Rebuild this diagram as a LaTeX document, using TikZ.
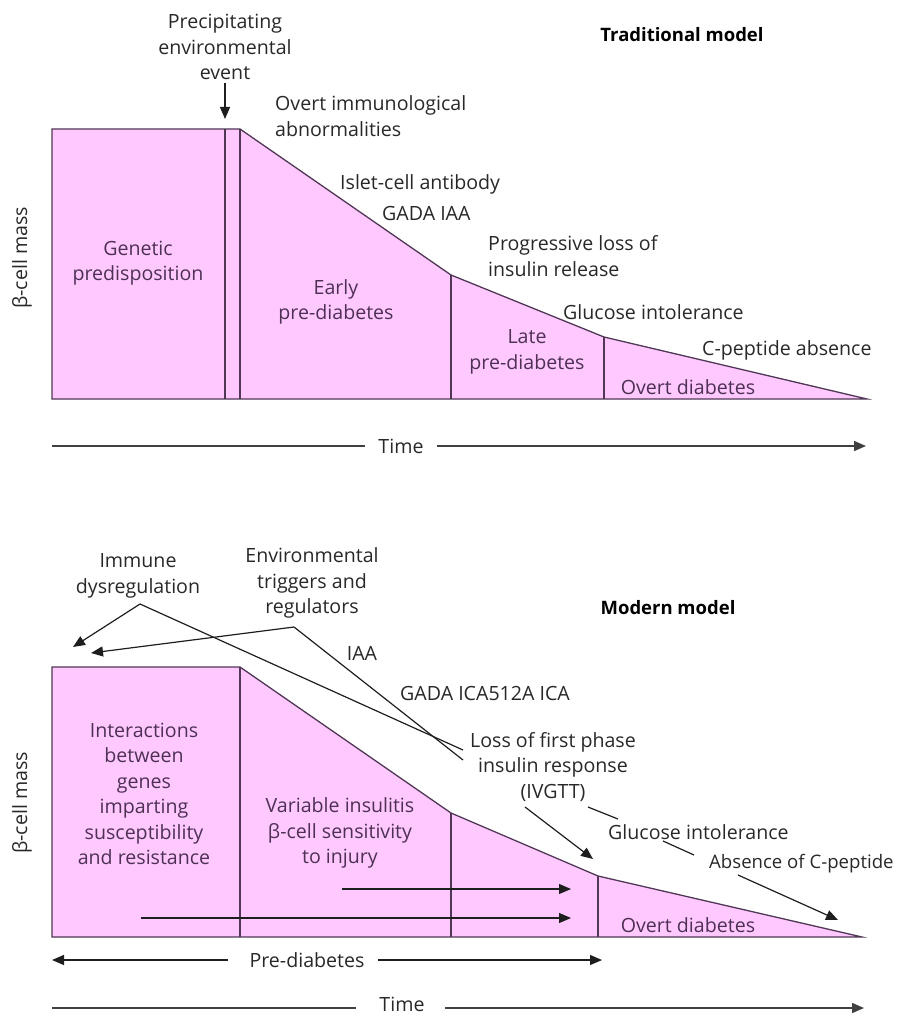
\documentclass[tikz,border=0pt]{standalone}
\usepackage{fontspec}
\setmainfont{Open Sans}
\usetikzlibrary{arrows.meta}
\definecolor{pinkfill}{RGB}{255,201,255}
\definecolor{intext}{RGB}{78,48,84}
\definecolor{outtext}{RGB}{40,40,40}
\definecolor{edgec}{RGB}{80,55,85}
\definecolor{linec}{RGB}{30,30,30}
\tikzset{
  lbl/.style={inner sep=0pt, text=outtext, font=\fontsize{19.6pt}{25.5pt}\selectfont, align=center},
  lbll/.style={lbl, align=left, anchor=west},
  inlbl/.style={lbl, text=intext},
  heading/.style={inner sep=0pt, text=black, font=\fontsize{18.5pt}{22pt}\selectfont\bfseries},
  stage/.style={draw=edgec, line width=1.3pt, fill=pinkfill, line join=miter},
  divider/.style={draw=edgec, line width=1.3pt},
  conn/.style={draw=linec, line width=1.2pt},
  arr/.style={conn, -{Triangle[length=12pt,width=10pt]}},
  axis/.style={draw=linec!85, line width=1.5pt},
  axarr/.style={axis, -{Triangle[length=12pt,width=10pt]}},
}
\begin{document}
\begin{tikzpicture}[x=1pt,y=-1pt]
\useasboundingbox (0,0) rectangle (900,1016);

% ================= Traditional model =================
\path[stage] (52,129) -- (240,129) -- (451,275) -- (604,337) -- (867,399) -- (52,399) -- cycle;
\draw[divider] (225,129) -- (225,399);
\draw[divider] (240,129) -- (240,399);
\draw[divider] (451,275) -- (451,399);
\draw[divider] (604,337) -- (604,399);

\node[heading] (trad) at (682,35) {Traditional model};
\node[lbl] (precip) at (225,47) {Precipitating\\environmental\\event};
\coordinate (precipA) at (225,83);
\coordinate (precipB) at (225,119);
\draw[arr] (precipA) -- (precipB);

\node[lbll] (overt) at (275,116) {Overt immunological\\abnormalities};
\node[lbll] (islet) at (340,184) {Islet-cell antibody};
\node[lbll] (gada1) at (382,213) {GADA IAA};
\node[lbll] (prog) at (488,256) {Progressive loss of\\insulin release};
\node[lbll] (gluc1) at (563,312) {Glucose intolerance};
\node[lbll] (cpep1) at (702,350) {C-peptide absence};

\node[inlbl] (genetic) at (138,263) {Genetic\\predisposition};
\node[inlbl] (early) at (336,302) {Early\\pre-diabetes};
\node[inlbl] (late) at (527,352) {Late\\pre-diabetes};
\node[inlbl] (overtd1) at (688,387) {Overt diabetes};
\node[lbl, rotate=90] (mass1) at (22,258) {β-cell mass};

\node[lbl] (time1) at (401,446) {Time};
\coordinate (t1a) at (52,446);
\coordinate (t1b) at (365,446);
\coordinate (t1c) at (437,446);
\coordinate (t1d) at (866,446);
\draw[axis] (t1a) -- (t1b);
\draw[axarr] (t1c) -- (t1d);

% ================= Modern model =================
\path[stage] (52,667) -- (240,667) -- (451,813) -- (598,876) -- (862,937) -- (52,937) -- cycle;
\draw[divider] (240,667) -- (240,937);
\draw[divider] (451,813) -- (451,937);
\draw[divider] (598,876) -- (598,937);

\node[heading] (modern) at (668,608) {Modern model};

\node[lbl] (immune) at (138,576) {Immune\\dysregulation};
\node[lbl] (env) at (312,583) {Environmental\\triggers and\\regulators};
\node[lbl] (iaa) at (362,653) {IAA};
\node[lbll] (gada2) at (400,693) {GADA ICA512A ICA};
\node[lbl] (loss) at (553,767) {Loss of first phase\\insulin response\\(IVGTT)};
\node[lbll] (gluc2) at (608,832) {Glucose intolerance};
\node[lbll, font=\fontsize{18.6pt}{25.5pt}\selectfont] (cpep2) at (709,864) {Absence of C-peptide};

\node[inlbl] (interact) at (144,794) {Interactions\\between\\genes\\imparting\\susceptibility\\and resistance};
\node[inlbl] (variable) at (340,833) {Variable insulitis\\β-cell sensitivity\\to injury};
\node[inlbl] (overtd2) at (688,925) {Overt diabetes};
\node[lbl, rotate=90] (mass2) at (22,803) {β-cell mass};

% connectors from labels
\coordinate (immA) at (140,604);
\coordinate (immL) at (73,647);
\coordinate (immR) at (463,750);
\draw[arr] (immA) -- (immL);
\draw[conn] (immA) -- (immR);

\coordinate (envA) at (294,627);
\coordinate (envL) at (91,653);
\coordinate (envR) at (463,760);
\draw[arr] (envA) -- (envL);
\draw[conn] (envA) -- (envR);

\coordinate (ivA) at (525,807);
\coordinate (ivB) at (593,859);
\draw[arr] (ivA) -- (ivB);
\coordinate (gA) at (588,807);
\coordinate (gB) at (618,819);
\draw[conn] (gA) -- (gB);
\coordinate (hA) at (663,841);
\coordinate (hB) at (694,855);
\draw[conn] (hA) -- (hB);
\coordinate (cA) at (738,875);
\coordinate (cB) at (838,920);
\draw[arr] (cA) -- (cB);

% inner arrows
\coordinate (in1a) at (342,889);
\coordinate (in1b) at (571,889);
\coordinate (in2a) at (141,918);
\coordinate (in2b) at (571,918);
\draw[arr] (in1a) -- (in1b);
\draw[arr] (in2a) -- (in2b);

% pre-diabetes axis
\node[lbl] (prediab) at (307,960) {Pre-diabetes};
\coordinate (pa) at (228,960);
\coordinate (pb) at (52,960);
\coordinate (pc) at (378,960);
\coordinate (pd) at (602,960);
\draw[arr] (pa) -- (pb);
\draw[arr] (pc) -- (pd);

% time axis
\node[lbl] (time2) at (402,1004) {Time};
\coordinate (t2a) at (52,1008);
\coordinate (t2b) at (356,1008);
\coordinate (t2c) at (445,1008);
\coordinate (t2d) at (864,1008);
\draw[axis] (t2a) -- (t2b);
\draw[axarr] (t2c) -- (t2d);
\end{tikzpicture}
\end{document}
